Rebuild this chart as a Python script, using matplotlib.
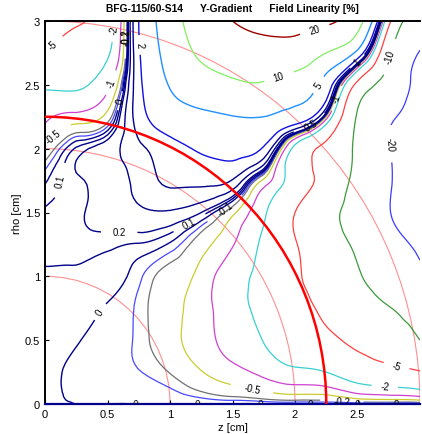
import numpy as np
import matplotlib
matplotlib.use("Agg")
import matplotlib.pyplot as plt
import matplotlib.tri as mtri
from matplotlib.patches import Circle

plt.rcParams['font.family'] = ['Liberation Sans', 'DejaVu Sans']

# ---- data ----
z_cm = [0.0, 0.25, 0.5, 0.75, 1.0, 1.25, 1.5, 1.75, 2.0, 2.25, 2.5, 2.75, 3.0]
rho_cm = [0.0, 0.25, 0.5, 0.75, 1.0, 1.25, 1.5, 1.75, 2.0, 2.25, 2.5, 2.75, 3.0]

# field linearity [%], one row per rho value, one column per z value
lin_rho_000 = [0, 0, 0, 0, 0, 0, 0, 0, 0, 0, 0, 0, 0]
lin_rho_025 = [0.02, -0.02, -0.06, -0.095, -0.21, -0.48, -0.8, -1.2, -1.7, -2.0, -3.1, -3.9, -4.8]
lin_rho_050 = [0.04, 0.01, -0.05, -0.13, -0.38, -0.75, -1.3, -2.05, -3.2, -4.3, -5.8, -7.5, -10]
lin_rho_075 = [0.07, 0.05, -0.01, -0.13, -0.38, -0.75, -1.5, -2.5, -3.9, -5.7, -7.8, -9.8, -12.5]
lin_rho_100 = [0.09, 0.08, 0.05, -0.07, -0.3, -0.65, -1.5, -2.6, -4.6, -6.5, -9.5, -13, -18]
lin_rho_125 = [0.14, 0.15, 0.13, 0.09, -0.02, -0.35, -0.95, -2.3, -4.8, -7.5, -11, -16, -22]
lin_rho_150 = [0.12, 0.17, 0.3, 0.42, 0.45, 0.2, -0.4, -1.8, -5, -8.5, -12.5, -19.5, -27]
lin_rho_175 = [-0.02, 0.17, 0.32, 0.65, 1.1, 1.2, 0.95, -0.6, -3, -6.5, -11.5, -19, -28]
lin_rho_200 = [-0.4, 0.12, 0.33, 0.85, 1.5, 2.2, 2.6, 1.8, -2.5, -6, -11, -19.5, -30]
lin_rho_225 = [-1.15, -0.8, -0.35, 1.4, 3.3, 4.3, 4.9, 5.0, 3.5, -0.5, -10.5, -18.5, -24]
lin_rho_250 = [-2.3, -2.2, -1.2, 1.6, 5.2, 7.5, 9, 9.5, 7.5, 3.5, -6, -13, -24]
lin_rho_275 = [-5, -3.3, -2.2, 1.8, 6.5, 11, 14, 15.5, 15, 10, 4, -9, -20.5]
lin_rho_300 = [-7, -5.5, -3, 2.0, 7.5, 14, 20, 24, 24, 22, 13, -4, -15]

levels = [-20, -10, -5, -2, -1, -0.5, -0.2, -0.1, 0, 0.1, 0.2, 0.5, 1, 2, 5, 10, 20]
level_colors = ['#3b3bff', '#3a9a3a', '#ff4040', '#38d0d0', '#d040d0', '#cccc30',
                '#707070', '#4848ff', '#00008a', '#00008a', '#00008a', '#00008a',
                '#00008a', '#1010e0', '#2090ff', '#80f060', '#a00000']
level_widths = [0.9, 0.9, 0.9, 0.9, 0.9, 0.9, 0.9, 0.9, 1.0, 1.0, 1.0, 1.0, 1.0,
                1.0, 1.0, 0.9, 1.0]

guide_radii = [1.0, 2.0, 3.0]
dsv_radius = 2.25

x_ticks = [0, 0.5, 1, 1.5, 2, 2.5]
y_ticks = [0, 0.5, 1, 1.5, 2, 2.5, 3]

# ---- figure ----
L = np.array([lin_rho_000, lin_rho_025, lin_rho_050, lin_rho_075, lin_rho_100,
              lin_rho_125, lin_rho_150, lin_rho_175, lin_rho_200, lin_rho_225,
              lin_rho_250, lin_rho_275, lin_rho_300])
Zg, Rg = np.meshgrid(z_cm, rho_cm)
tri = mtri.Triangulation(Zg.ravel(), Rg.ravel())
tri_f, L_f = mtri.UniformTriRefiner(tri).refine_field(L.ravel(), subdiv=3)

fig = plt.figure(figsize=(4.22, 4.35), dpi=100)
ax = fig.add_axes([45 / 422, 30 / 435, 375 / 422, 383 / 435])

for r in guide_radii:
    ax.add_patch(Circle((0, 0), r, fill=False, ec='#ff9090', lw=0.8, zorder=1))
ax.add_patch(Circle((0, 0), dsv_radius, fill=False, ec='#ff0000', lw=1.8, zorder=3))

cs = ax.tricontour(tri_f, L_f, levels=levels, colors=level_colors,
                   linewidths=level_widths, zorder=2)
ax.clabel(cs, fmt='%g', fontsize=7, inline=True, inline_spacing=2, colors='k')

ax.set_xlim(0, 3)
ax.set_ylim(0, 3)
ax.set_xticks(x_ticks)
ax.set_xticklabels([f'{t:g}' for t in x_ticks])
ax.set_yticks(y_ticks)
ax.set_yticklabels([f'{t:g}' for t in y_ticks])
ax.tick_params(direction='in', length=3, labelsize=8, width=0.8)
ax.set_xlabel('z [cm]', fontsize=8, labelpad=2)
ax.set_ylabel('rho [cm]', fontsize=8, labelpad=2)
ax.set_title('BFG-115/60-S14      Y-Gradient      Field Linearity [%]',
             fontsize=7.4, fontweight='bold', pad=7)
for side in ['left', 'top']:
    ax.spines[side].set_linewidth(1.4)
ax.spines['right'].set_visible(False)
ax.spines['bottom'].set_color('#00008a')
ax.spines['bottom'].set_linewidth(1.6)

fig.savefig('out.png', dpi=100)
